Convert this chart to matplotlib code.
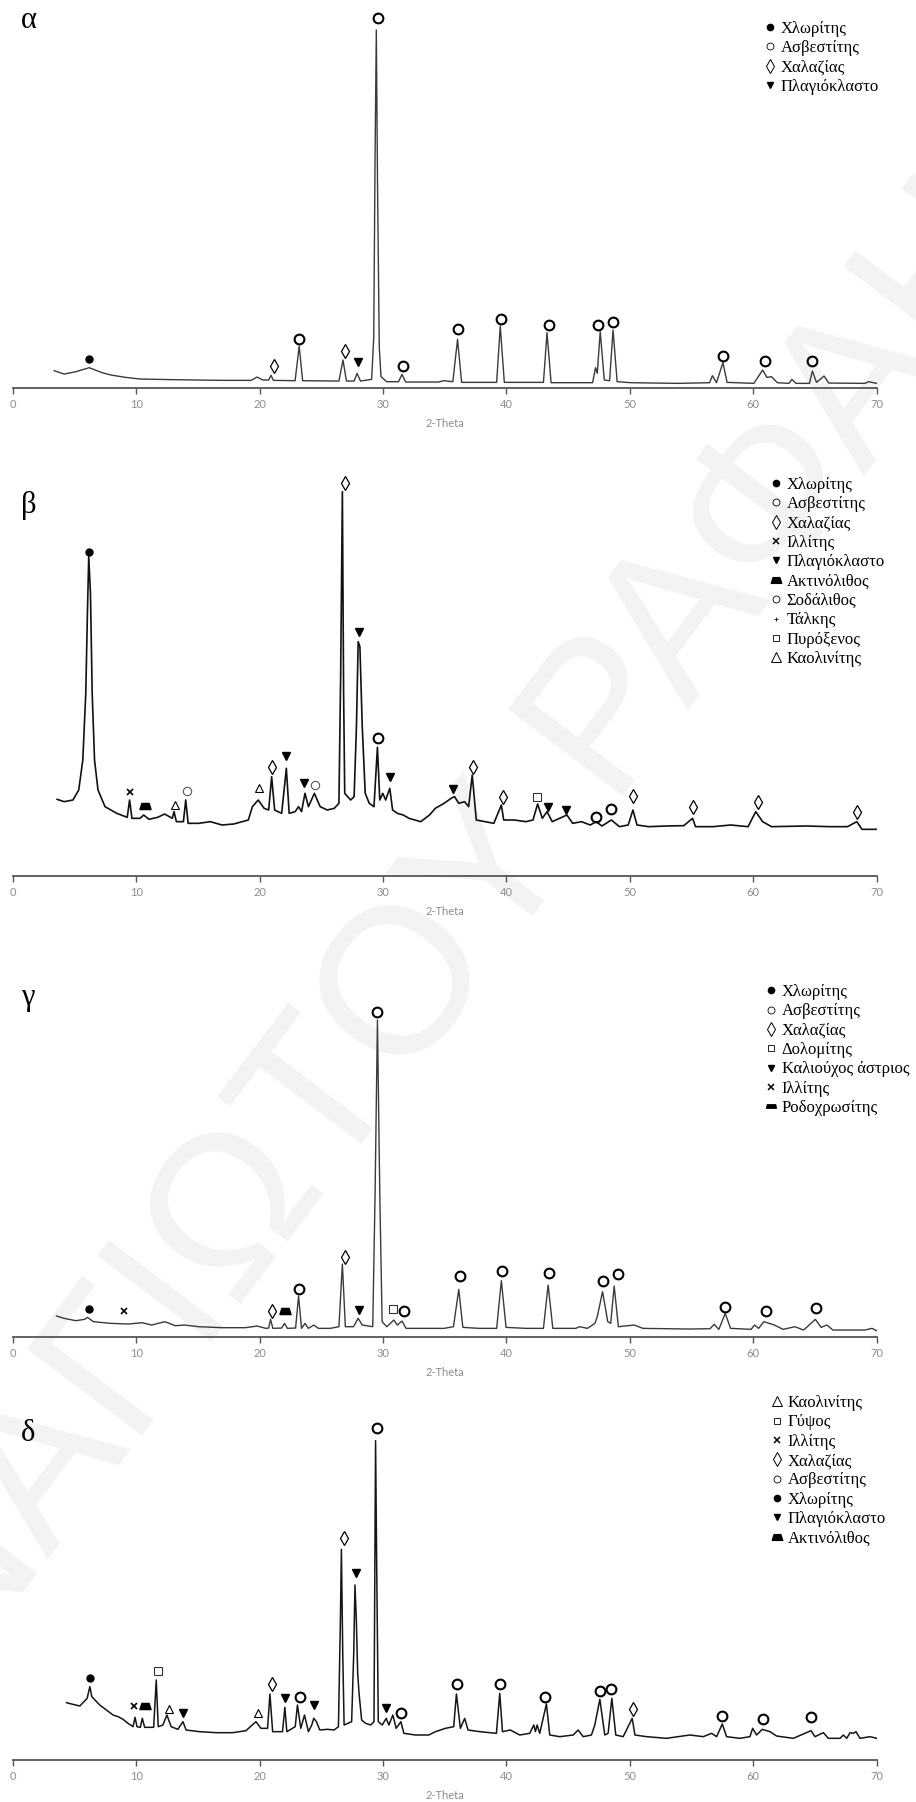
import matplotlib
matplotlib.use("Agg")
import matplotlib.pyplot as plt
from matplotlib.lines import Line2D
from matplotlib.path import Path
from matplotlib.font_manager import FontProperties

# ---------------- data (2-Theta, intensity in a.u.) ----------------
# panel α
a_tt = [3.36, 4.17, 5.12, 6.20, 7.25, 7.96, 9.14, 10.32, 13.17, 16.96, 19.32, 19.80, 20.27, 20.74,
        20.93, 21.12, 22.88, 23.21, 23.49, 26.43, 26.76, 27.04, 27.66, 27.90, 28.18, 29.08, 29.25,
        29.36, 29.46, 29.56, 29.70, 29.84, 30.31, 31.26, 31.54, 31.83, 34.48, 34.95, 35.66, 36.04,
        36.37, 39.21, 39.50, 39.83, 43.00, 43.29, 43.62, 46.98, 47.22, 47.36, 47.60, 47.93, 48.36,
        48.64, 48.97, 50.11, 53.90, 56.46, 56.69, 57.02, 57.54, 57.88, 60.05, 60.76, 61.10, 61.48,
        61.95, 62.89, 63.13, 63.46, 64.55, 64.79, 65.12, 65.74, 66.12, 69.05, 69.34, 70.0]
a_int = [51, 41, 48, 60, 45, 38, 31, 26, 24, 22, 22, 32, 23, 23,
         37, 22, 21, 125, 21, 20, 83, 20, 20, 43, 20, 25, 150,
         700, 1073, 600, 120, 33, 18, 18, 40, 17, 17, 21, 18, 145,
         16, 16, 185, 16, 16, 165, 15, 15, 60, 43, 168, 23, 21,
         173, 18, 15, 13, 15, 36, 15, 75, 16, 13, 53, 31, 33,
         15, 13, 25, 13, 13, 50, 16, 35, 14, 13, 18, 13]
a_mk_tt = [6.20, 21.17, 23.21, 26.90, 27.94, 29.60, 31.59, 36.04, 39.55, 43.43, 47.41, 48.64,
           57.54, 60.95, 64.79]
a_mk_int = [86, 66, 147, 111, 76, 1108, 66, 177, 207, 187, 187, 198, 96, 81, 81]
a_mk_ph = ["chl", "qtz", "cal", "qtz", "pl", "cal", "cal", "cal", "cal", "cal", "cal", "cal",
           "cal", "cal", "cal"]
a_leg = [("chl", "Χλωρίτης"), ("cal", "Ασβεστίτης"), ("qtz", "Χαλαζίας"), ("pl", "Πλαγιόκλαστο")]

# panel β
b_tt = [3.60, 4.17, 4.88, 5.35, 5.68, 5.92, 6.06, 6.16, 6.30, 6.44, 6.63, 6.91, 7.48, 8.43, 9.28,
        9.47, 9.66, 10.32, 10.61, 11.04, 11.75, 12.31, 12.69, 12.93, 13.07, 13.26, 13.83, 14.02,
        14.21, 15.06, 16.01, 16.96, 17.90, 19.09, 19.42, 19.89, 20.37, 20.74, 20.98, 21.22, 21.79,
        22.17, 22.40, 22.88, 23.16, 23.40, 23.68, 23.96, 24.44, 24.91, 25.48, 26.05, 26.43, 26.57,
        26.71, 26.81, 26.90, 27.38, 27.66, 27.85, 27.99, 28.13, 28.32, 28.56, 28.89, 29.27, 29.55,
        29.74, 29.98, 30.22, 30.55, 30.78, 31.16, 31.64, 32.11, 33.06, 33.77, 34.24, 34.95, 35.52,
        35.80, 36.14, 36.61, 36.94, 37.23, 37.56, 38.27, 38.98, 39.59, 39.78, 40.64, 41.58, 42.15,
        42.53, 42.91, 43.29, 43.71, 44.90, 45.37, 46.08, 46.79, 47.27, 47.74, 48.50, 49.16, 49.87,
        50.25, 50.58, 51.53, 52.95, 54.37, 55.08, 55.32, 56.74, 58.16, 59.58, 60.20, 60.76, 61.48,
        64.32, 66.21, 67.63, 68.39, 68.81, 70.0]
b_int = [230, 223, 228, 258, 348, 548, 798, 958, 848, 548, 348, 258, 208, 188, 176,
         228, 173, 173, 183, 170, 176, 186, 178, 173, 193, 163, 163, 228,
         158, 158, 163, 153, 156, 168, 208, 228, 203, 198, 298, 198, 188,
         323, 188, 193, 208, 193, 248, 208, 248, 208, 198, 203, 218, 600,
         1153, 548, 248, 228, 238, 448, 703, 688, 448, 248, 218, 208, 386,
         228, 248, 228, 263, 198, 188, 183, 173, 163, 183, 203, 218, 233,
         238, 218, 223, 208, 303, 168, 163, 158, 213, 168, 168, 163, 168,
         216, 173, 193, 163, 183, 158, 163, 153, 163, 150, 168, 148, 153,
         198, 153, 148, 150, 151, 173, 148, 148, 153, 148, 193, 163, 148,
         150, 148, 148, 163, 140, 140]
b_mk_tt = [6.16, 9.47, 10.70, 13.17, 14.11, 19.94, 20.98, 22.12, 23.63, 24.53, 26.90, 28.09,
           29.60, 30.60, 35.66, 37.32, 39.69, 42.44, 43.34, 44.85, 47.27, 48.50, 50.25, 55.13,
           60.39, 68.44]
b_mk_int = [973, 253, 210, 213, 255, 263, 326, 360, 278, 273, 1178, 733,
            413, 296, 260, 328, 236, 238, 206, 198, 178, 200, 241, 206, 221, 193]
b_mk_ph = ["chl", "ill", "act", "kao", "sod", "kao", "qtz", "pl", "pl", "sod", "qtz", "pl",
           "cal", "pl", "pl", "qtz", "qtz", "pyx", "pl", "pl", "cal", "cal", "qtz", "qtz",
           "qtz", "qtz"]
b_leg = [("chl", "Χλωρίτης"), ("cal", "Ασβεστίτης"), ("qtz", "Χαλαζίας"), ("ill", "Ιλλίτης"),
         ("pl", "Πλαγιόκλαστο"), ("act", "Ακτινόλιθος"), ("sod", "Σοδάλιθος"), ("tlc", "Τάλκης"),
         ("pyx", "Πυρόξενος"), ("kao", "Καολινίτης")]

# panel γ
g_tt = [3.55, 4.17, 5.12, 5.83, 6.06, 6.54, 7.96, 9.38, 10.47, 11.27, 12.31, 12.55, 13.17, 13.92,
        15.06, 16.96, 18.85, 19.80, 20.51, 20.74, 20.89, 21.08, 21.79, 22.02, 22.26, 22.92, 23.16,
        23.40, 23.68, 23.96, 24.39, 24.77, 25.72, 26.43, 26.71, 26.95, 27.61, 27.99, 28.32, 29.17,
        29.36, 29.55, 29.74, 29.93, 30.31, 30.88, 31.16, 31.54, 31.87, 34.95, 35.71, 36.14, 36.47,
        37.79, 39.21, 39.59, 39.97, 41.58, 43.00, 43.38, 43.76, 45.61, 45.94, 46.56, 47.17, 47.36,
        47.79, 48.21, 48.45, 48.73, 49.07, 50.35, 51.06, 54.84, 56.50, 56.83, 57.21, 57.73, 58.16,
        59.82, 60.10, 60.43, 60.86, 61.71, 62.42, 63.37, 64.08, 65.03, 65.50, 65.97, 66.45, 69.05,
        69.62, 70.0]
g_int = [62, 55, 48, 52, 58, 45, 40, 38, 42, 35, 45, 42, 33, 35,
         30, 27, 27, 32, 25, 26, 52, 25, 26, 40, 25, 26, 122,
         25, 40, 25, 35, 25, 25, 30, 218, 30, 30, 55, 35, 30,
         430, 950, 430, 45, 30, 50, 35, 47, 25, 25, 30, 142, 28,
         25, 25, 168, 28, 25, 25, 155, 25, 25, 30, 25, 40, 60,
         135, 45, 40, 152, 30, 35, 25, 23, 24, 37, 22, 70, 25,
         22, 35, 25, 45, 35, 22, 30, 20, 52, 28, 35, 20, 20,
         25, 18]
g_mk_tt = [6.16, 9.05, 20.98, 22.07, 23.21, 26.90, 28.04, 29.55, 30.83, 31.73, 36.23, 39.64,
           43.43, 47.79, 49.02, 57.69, 61.05, 65.12]
g_mk_int = [82, 78, 77, 78, 142, 240, 80, 973, 82, 77, 182, 198, 192, 168, 187, 90, 77, 85]
g_mk_ph = ["chl", "ill", "qtz", "rho", "cal", "qtz", "kfs", "cal", "dol", "cal", "cal", "cal",
           "cal", "cal", "cal", "cal", "cal", "cal"]
g_leg = [("chl", "Χλωρίτης"), ("cal", "Ασβεστίτης"), ("qtz", "Χαλαζίας"), ("dol", "Δολομίτης"),
         ("kfs", "Καλιούχος άστριος"), ("ill", "Ιλλίτης"), ("rho", "Ροδοχρωσίτης")]

# panel δ
d_tt = [4.36, 4.77, 5.44, 6.03, 6.25, 6.41, 6.79, 7.05, 7.59, 8.13, 8.54, 8.94, 9.34, 9.75, 9.91,
        10.07, 10.34, 10.50, 10.69, 11.42, 11.63, 11.79, 12.17, 12.49, 12.84, 13.38, 13.79, 14.05,
        15.13, 16.48, 17.82, 18.90, 19.71, 20.11, 20.65, 20.84, 21.06, 21.86, 22.05, 22.21, 22.89,
        23.07, 23.34, 23.64, 23.96, 24.23, 24.39, 24.61, 24.88, 25.50, 26.04, 26.39, 26.55, 26.63,
        26.74, 26.85, 27.46, 27.63, 27.73, 27.84, 27.95, 28.06, 28.27, 28.59, 29.00, 29.27, 29.35,
        29.40, 29.48, 29.62, 29.94, 30.26, 30.48, 30.80, 31.07, 31.45, 31.69, 32.63, 33.71, 34.25,
        35.06, 35.73, 35.95, 36.27, 36.62, 36.89, 37.84, 39.19, 39.46, 39.68, 40.32, 41.08, 41.89,
        42.22, 42.35, 42.49, 42.70, 43.24, 43.51, 44.32, 45.41, 45.81, 46.22, 46.89, 47.16, 47.57,
        47.97, 48.24, 48.54, 48.86, 49.46, 50.19, 50.41, 51.35, 52.97, 54.86, 55.95, 56.62, 57.03,
        57.49, 57.84, 58.92, 59.73, 59.95, 60.27, 60.73, 61.35, 61.89, 63.24, 64.68, 65.0, 65.68,
        66.08, 67.03, 67.30, 67.57, 67.84, 68.11, 68.32, 68.65, 69.46, 70.0]
d_int = [172, 168, 162, 185, 220, 190, 175, 165, 150, 135, 130, 122, 110, 100, 128,
         100, 98, 125, 98, 98, 240, 100, 105, 135, 100, 92, 115, 90,
         85, 82, 82, 88, 115, 95, 95, 198, 85, 85, 158, 85, 100,
         165, 95, 135, 85, 105, 125, 115, 90, 92, 90, 100, 420, 632,
         320, 105, 115, 320, 525, 420, 260, 200, 120, 110, 105, 115, 620,
         958, 620, 115, 105, 125, 105, 135, 95, 115, 80, 75, 75, 85,
         95, 100, 198, 95, 125, 90, 85, 80, 200, 85, 90, 75, 80,
         105, 85, 105, 80, 168, 75, 70, 75, 90, 70, 75, 105, 182,
         75, 80, 185, 75, 70, 125, 75, 70, 65, 75, 70, 80, 70,
         108, 70, 65, 70, 95, 75, 92, 85, 72, 65, 88, 70, 82,
         65, 65, 75, 65, 82, 80, 85, 65, 70, 65]
d_mk_tt = [6.25, 9.85, 10.72, 11.77, 12.65, 13.81, 19.90, 20.97, 22.05, 23.29, 24.39, 26.84,
           27.79, 29.48, 30.26, 31.50, 36.0, 39.46, 43.16, 47.59, 48.46, 50.27, 57.43, 60.76,
           64.65]
d_mk_int = [245, 163, 162, 268, 152, 142, 140, 228, 185, 188, 165, 665,
            560, 995, 155, 140, 227, 227, 190, 208, 214, 152, 132, 124, 128]
d_mk_ph = ["chl", "ill", "act", "gyp", "kao", "pl", "kao", "qtz", "pl", "cal", "pl", "qtz",
           "pl", "cal", "pl", "cal", "cal", "cal", "cal", "cal", "cal", "qtz", "cal", "cal",
           "cal"]
d_leg = [("kao", "Καολινίτης"), ("gyp", "Γύψος"), ("ill", "Ιλλίτης"), ("qtz", "Χαλαζίας"),
         ("cal", "Ασβεστίτης"), ("chl", "Χλωρίτης"), ("pl", "Πλαγιόκλαστο"), ("act", "Ακτινόλιθος")]

# ---------------- styles ----------------
trap = Path([(-1.0, -0.55), (1.0, -0.55), (0.65, 0.55), (-0.65, 0.55), (-1.0, -0.55)],
            [Path.MOVETO, Path.LINETO, Path.LINETO, Path.LINETO, Path.CLOSEPOLY])
flat = Path([(-1.0, -0.35), (1.0, -0.35), (0.85, 0.35), (-0.85, 0.35), (-1.0, -0.35)],
            [Path.MOVETO, Path.LINETO, Path.LINETO, Path.LINETO, Path.CLOSEPOLY])

k = "black"
plot_style = {
    "chl": dict(marker="o", ms=5, mfc=k, mec=k),
    "cal": dict(marker="o", ms=7, mfc="none", mec=k, mew=1.5),
    "qtz": dict(marker="d", ms=7.5, mfc="none", mec=k, mew=0.9),
    "pl": dict(marker="v", ms=5.5, mfc=k, mec=k),
    "kfs": dict(marker="v", ms=5.5, mfc=k, mec=k),
    "ill": dict(marker="x", ms=4.5, mec=k, mew=1.2),
    "act": dict(marker=trap, ms=8, mfc=k, mec=k),
    "rho": dict(marker=trap, ms=8, mfc=k, mec=k),
    "sod": dict(marker="o", ms=6, mfc="none", mec="#555555", mew=0.8),
    "pyx": dict(marker="s", ms=5.5, mfc="none", mec="#333333", mew=0.8),
    "dol": dict(marker="s", ms=5.5, mfc="none", mec="#333333", mew=0.8),
    "gyp": dict(marker="s", ms=6, mfc="none", mec="#333333", mew=0.8),
    "kao": dict(marker="^", ms=5.5, mfc="none", mec=k, mew=0.8),
}
leg_style = dict(plot_style)
leg_style.update({
    "chl": dict(marker="o", ms=4.5, mfc=k, mec=k),
    "cal": dict(marker="o", ms=5, mfc="none", mec=k, mew=0.6),
    "sod": dict(marker="o", ms=5, mfc="none", mec=k, mew=0.6),
    "qtz": dict(marker="d", ms=7, mfc="none", mec=k, mew=0.7),
    "pl": dict(marker="v", ms=5, mfc=k, mec=k),
    "kfs": dict(marker="v", ms=5, mfc=k, mec=k),
    "ill": dict(marker="x", ms=4, mec=k, mew=1.1),
    "act": dict(marker=trap, ms=7.5, mfc=k, mec=k),
    "rho": dict(marker=flat, ms=7, mfc=k, mec=k),
    "tlc": dict(marker="+", ms=3.5, mec=k, mew=0.6),
    "pyx": dict(marker="s", ms=5, mfc="none", mec=k, mew=0.6),
    "dol": dict(marker="s", ms=4, mfc="none", mec=k, mew=0.6),
    "gyp": dict(marker="s", ms=5, mfc="none", mec=k, mew=0.6),
    "kao": dict(marker="^", ms=6.5, mfc="none", mec=k, mew=0.7),
})

W, H = 916, 1802
fig = plt.figure(figsize=(W / 100, H / 100), dpi=100)

# faint diagonal watermark behind the panels
fig.text(410 / W, 1 - 990 / H, "ΠΑΝΑΓΙΩΤΟΥ ΡΑΦΑΗΛ", rotation=53, rotation_mode="anchor",
         ha="center", va="center", fontsize=150, color="#f3f3f3",
         family="Liberation Sans", zorder=-5)

serif = ["Liberation Serif", "DejaVu Serif"]
leg_font = FontProperties(family=serif, size=12)

# letter, data..., axis-line px, panel-top px, legend left px, legend top px, letter baseline px
panels = [
    ("α", a_tt, a_int, a_mk_tt, a_mk_int, a_mk_ph, a_leg, 387.7, 0, 763, 21, 28, "#3a3a3a", 1.0),
    ("β", b_tt, b_int, b_mk_tt, b_mk_int, b_mk_ph, b_leg, 876, 460, 769, 477, 513, "#111111", 1.2),
    ("γ", g_tt, g_int, g_mk_tt, g_mk_int, g_mk_ph, g_leg, 1336.7, 960, 764, 984, 1005, "#3a3a3a", 1.0),
    ("δ", d_tt, d_int, d_mk_tt, d_mk_int, d_mk_ph, d_leg, 1760, 1420, 770, 1395, 1441, "#151515", 1.1),
]

for (letter, tt, inten, mtt, mint, mph, leg, y_axis, y_top, lx, ly, ybase, lc, lw) in panels:
    ax = fig.add_axes([12.7 / W, 1 - y_axis / H, 864 / W, (y_axis - y_top) / H])
    ax.set_facecolor("none")
    ax.plot(tt, inten, color=lc, lw=lw, solid_joinstyle="round")
    for ph in dict.fromkeys(mph):
        xs = [x for x, p in zip(mtt, mph) if p == ph]
        ys = [y for y, p in zip(mint, mph) if p == ph]
        ax.plot(xs, ys, ls="none", clip_on=False, **plot_style[ph])
    ax.set_xlim(0, 70)
    ax.set_ylim(0, (y_axis - y_top) * 3)
    ax.set_xticks(range(0, 71, 10))
    ax.set_yticks([])
    for s in ["top", "left", "right"]:
        ax.spines[s].set_visible(False)
    ax.spines["bottom"].set_color("#555555")
    ax.spines["bottom"].set_linewidth(1.3)
    ax.tick_params(axis="x", direction="out", length=4, width=1.0, color="#555555",
                   labelsize=8, labelcolor="#8c8c8c", pad=4)
    for t in ax.get_xticklabels():
        t.set_family("Lato")
    ax.set_xlabel("2-Theta", fontsize=8, color="#8c8c8c", family="Lato", labelpad=6)

    handles = [Line2D([], [], ls="none", **leg_style[ph]) for ph, _ in leg]
    labels = [lab for _, lab in leg]
    fig.legend(handles, labels, loc="upper left", bbox_to_anchor=(lx / W, 1 - ly / H),
               frameon=False, prop=leg_font, handlelength=0.8,
               handletextpad=0.25, labelspacing=0.2, borderpad=0, borderaxespad=0)

    fig.text(21 / W, 1 - ybase / H, letter, fontsize=22, family=serif, va="baseline", ha="left")

fig.savefig("out.png", dpi=100)
